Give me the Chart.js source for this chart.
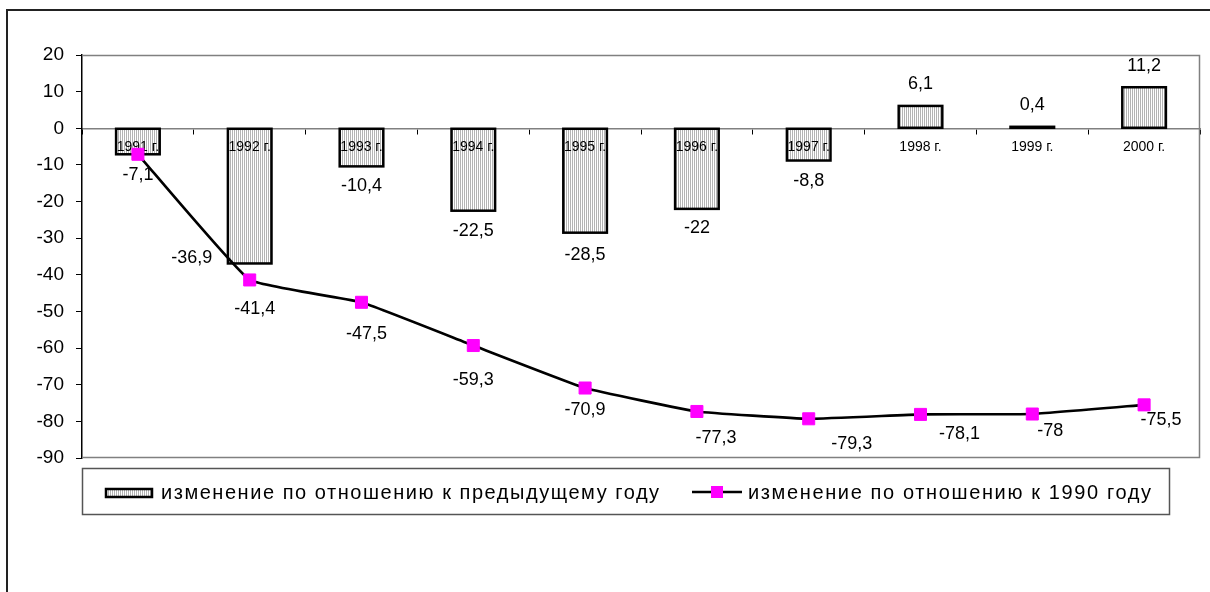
<!DOCTYPE html>
<html>
<head>
<meta charset="utf-8">
<style>
  html, body { margin: 0; padding: 0; background: #fff; }
  #wrap { width: 1210px; height: 592px; position: relative; }
  canvas { display: block; }
</style>
<script src="https://cdn.jsdelivr.net/npm/chart.js@4.4.1/dist/chart.umd.min.js"></script>
</head>
<body>
<div id="wrap"><canvas id="chart" width="1210" height="592"></canvas></div>
<script>
// Years on the category axis
const years = ['1991 г.', '1992 г.', '1993 г.', '1994 г.', '1995 г.', '1996 г.', '1997 г.', '1998 г.', '1999 г.', '2000 г.'];
// Change versus the previous year, %
const changePrevYear = [-7.1, -36.9, -10.4, -22.5, -28.5, -22, -8.8, 6.1, 0.4, 11.2];
// Change versus 1990, %
const change1990 = [-7.1, -41.4, -47.5, -59.3, -70.9, -77.3, -79.3, -78.1, -78, -75.5];
// Value axis range
const yMin = -90;
const yMax = 20;
const yStep = 10;
const seriesNames = ['изменение по отношению к предыдущему году', 'изменение по отношению к 1990 году'];

const FONT = "'Liberation Sans', Arial, sans-serif";
const NARROW = "'Liberation Sans Narrow', 'Arial Narrow', 'Liberation Sans', Arial, sans-serif";

// Pixel shifts of the value labels relative to the bar end / marker
const barLabelShift = [[0, 21], [-58, -5], [0, 20], [0, 20], [0, 22], [0, 19], [0, 21], [0, -22], [0, -22], [0, -21]];
const lineLabelShift = [null, [5, 29], [5, 32], [0, 35], [0, 22], [19, 27], [43, 25], [39, 20], [18, 17], [17, 15]];

const canvas = document.getElementById('chart');
const ctx = canvas.getContext('2d');

// Fine vertical hatching used for the bars
function makeHatch() {
  const p = document.createElement('canvas');
  p.width = 2; p.height = 2;
  const g = p.getContext('2d');
  g.fillStyle = '#ffffff';
  g.fillRect(0, 0, 2, 2);
  g.fillStyle = '#b4b4b4';
  g.fillRect(0, 0, 1, 2);
  return ctx.createPattern(p, 'repeat');
}
const hatch = makeHatch();

const fmt = v => String(v).replace('.', ',');

// Outer frame and plot-area border
const framePlugin = {
  id: 'frame',
  beforeDatasetsDraw(chart) {
    const c = chart.ctx, a = chart.chartArea;
    c.save();
    c.strokeStyle = '#222';
    c.lineWidth = 2;
    c.beginPath();
    c.moveTo(7, 592); c.lineTo(7, 10); c.lineTo(1210, 10);
    c.stroke();
    c.strokeStyle = '#808080';
    c.lineWidth = 1.5;
    c.beginPath();
    c.moveTo(a.left, a.top + 0.5); c.lineTo(a.right - 0.5, a.top + 0.5);
    c.lineTo(a.right - 0.5, a.bottom - 0.5); c.lineTo(a.left, a.bottom - 0.5);
    c.stroke();
    c.restore();
  }
};

// Bar outlines stroked on the bar edges, then category names on the zero line
// (over the bars but under the line series)
const barOverlayPlugin = {
  id: 'barOverlay',
  afterDatasetDraw(chart, args) {
    if (args.index !== 0) return;
    const c = chart.ctx, xs = chart.scales.x, ys = chart.scales.y;
    c.save();
    c.strokeStyle = '#000';
    c.lineWidth = 2.5;
    c.lineJoin = 'miter';
    args.meta.data.forEach(el => {
      const p = el.getProps(['x', 'y', 'base', 'width'], true);
      const top = Math.min(p.y, p.base);
      const h = Math.abs(p.base - p.y);
      c.strokeRect(p.x - p.width / 2, top, p.width, h);
    });
    const y0 = ys.getPixelForValue(0);
    c.font = '14px ' + NARROW;
    c.fillStyle = '#000';
    c.textAlign = 'center';
    c.textBaseline = 'middle';
    years.forEach((label, i) => {
      c.fillText(label, xs.getPixelForValue(i), y0 + 19);
    });
    c.restore();
  }
};

// Value labels for both series
const valueLabelPlugin = {
  id: 'valueLabels',
  afterDatasetsDraw(chart) {
    const c = chart.ctx;
    c.save();
    c.font = '18px ' + FONT;
    c.fillStyle = '#000';
    c.textAlign = 'center';
    c.textBaseline = 'middle';
    chart.getDatasetMeta(0).data.forEach((el, i) => {
      const s = barLabelShift[i];
      if (!s) return;
      c.fillText(fmt(changePrevYear[i]), el.x + s[0], el.y + s[1]);
    });
    chart.getDatasetMeta(1).data.forEach((el, i) => {
      const s = lineLabelShift[i];
      if (!s) return;
      c.fillText(fmt(change1990[i]), el.x + s[0], el.y + s[1]);
    });
    c.restore();
  }
};

// Boxed legend under the plot
const legendBoxPlugin = {
  id: 'legendBox',
  afterDraw(chart) {
    const c = chart.ctx;
    const ds = chart.data.datasets;
    c.save();
    c.strokeStyle = '#555';
    c.lineWidth = 1.5;
    c.strokeRect(82.5, 468.5, 1087, 46);

    const ty = 493;
    c.font = '20px ' + FONT;
    c.fillStyle = '#000';
    c.textBaseline = 'middle';
    c.textAlign = 'left';

    function spaced(text, x, targetW) {
      c.letterSpacing = '0px';
      const w = c.measureText(text).width;
      const sp = Math.max(0, (targetW - w) / (text.length - 1));
      c.letterSpacing = sp.toFixed(2) + 'px';
      c.fillText(text, x, ty);
      c.letterSpacing = '0px';
    }

    // bar swatch
    c.fillStyle = hatch;
    c.fillRect(106, 489, 46, 8);
    c.strokeStyle = '#000';
    c.lineWidth = 2.5;
    c.strokeRect(106, 489, 46, 8);
    c.fillStyle = '#000';
    spaced(ds[0].label, 161, 498);

    // line swatch
    c.strokeStyle = '#000';
    c.lineWidth = 2.5;
    c.beginPath();
    c.moveTo(692, 492); c.lineTo(742, 492);
    c.stroke();
    c.fillStyle = '#ff00ff';
    c.fillRect(711, 486, 12, 12);
    c.fillStyle = '#000';
    spaced(ds[1].label, 748, 403);
    c.restore();
  }
};

new Chart(ctx, {
  data: {
    labels: years,
    datasets: [
      {
        type: 'bar',
        label: seriesNames[0],
        data: changePrevYear,
        backgroundColor: hatch,
        borderWidth: 0,
        barPercentage: 0.39,
        categoryPercentage: 1,
        order: 2
      },
      {
        type: 'line',
        label: seriesNames[1],
        data: change1990,
        borderColor: '#000',
        borderWidth: 2.6,
        tension: 0.1,
        pointStyle: 'rect',
        pointRadius: 8.5,
        pointBackgroundColor: '#ff00ff',
        pointBorderColor: '#ff00ff',
        pointBorderWidth: 1,
        order: 1
      }
    ]
  },
  options: {
    responsive: false,
    animation: false,
    devicePixelRatio: 1,
    layout: { padding: { left: 0, right: 10, top: 55, bottom: 134 } },
    plugins: {
      legend: { display: false },
      tooltip: { enabled: false }
    },
    scales: {
      x: {
        type: 'category',
        position: { y: 0 },
        offset: true,
        grid: { drawOnChartArea: false, drawTicks: true, tickLength: 5, color: '#000', offset: true },
        border: { color: '#808080', width: 1.5 },
        ticks: { display: false }
      },
      y: {
        min: yMin,
        max: yMax,
        ticks: {
          stepSize: yStep,
          color: '#000',
          padding: 12,
          font: { size: 19, family: FONT },
          callback: v => String(v)
        },
        grid: { drawOnChartArea: false, drawTicks: true, tickLength: 6, color: '#000' },
        border: { color: '#000', width: 1.5 },
        afterFit(scale) { scale.width = 82; }
      }
    }
  },
  plugins: [framePlugin, barOverlayPlugin, valueLabelPlugin, legendBoxPlugin]
});
</script>
</body>
</html>
